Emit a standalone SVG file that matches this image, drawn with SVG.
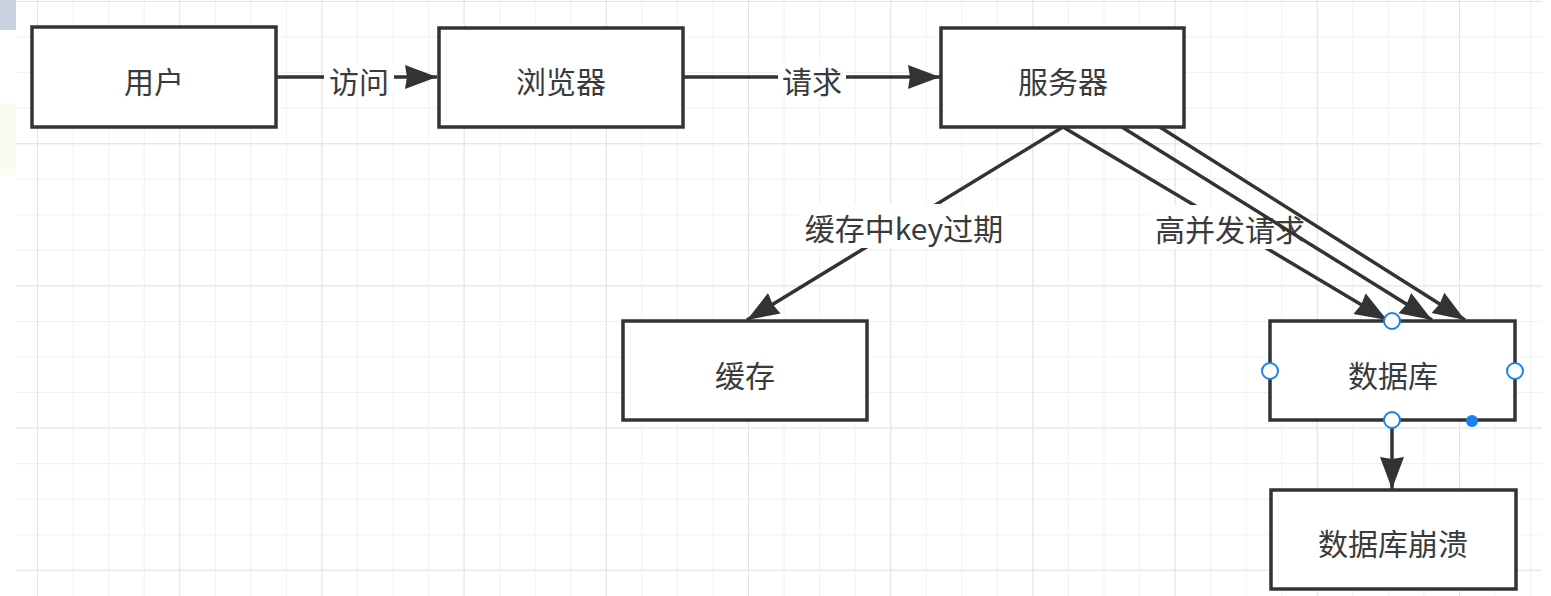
<svg xmlns="http://www.w3.org/2000/svg" width="1551" height="596" viewBox="0 0 1551 596">
<style>
.box{fill:#fff;stroke:#333;stroke-width:3.5}
.lbl{font-family:"Noto Sans CJK SC","Microsoft YaHei",sans-serif;font-size:30px;fill:#3a3a3a;text-anchor:middle;dominant-baseline:central}
.edge{fill:none;stroke:#333;stroke-width:3.5}
.lbg{fill:#fff}
.h{fill:#fff;stroke:#1a7ff0;stroke-width:2}
</style>
<defs>
<pattern id="minor" width="35.55" height="35.55" patternUnits="userSpaceOnUse" x="37" y="1">
<path d="M0,0 H35.55 M0,0 V35.55" fill="none" stroke="#f0f0f0" stroke-width="2"/>
</pattern>
<pattern id="major" width="142.2" height="142.2" patternUnits="userSpaceOnUse" x="37" y="1">
<path d="M0,0 H142.2 M0,0 V142.2" fill="none" stroke="#e4e4e4" stroke-width="2"/>
</pattern>
<marker id="arr" markerUnits="userSpaceOnUse" markerWidth="34" markerHeight="28" viewBox="0 -14 34 28" refX="32" refY="0" orient="auto">
<path d="M0,-12 L32,0 L0,12 L2,0 Z" fill="#333"/>
</marker>
</defs>
<rect width="1551" height="596" fill="#fff"/>
<rect x="16" y="0" width="1526" height="596" fill="url(#minor)"/>
<rect x="16" y="0" width="1526" height="596" fill="url(#major)"/>
<rect x="0" y="0" width="16" height="30" fill="#c9d3e0"/>
<rect x="0" y="103" width="16" height="72" fill="#fbfbf4"/>
<g id="connectors">
<g id="e-visit">
<path class="edge" d="M276,77 L437,77" marker-end="url(#arr)"/>
<rect class="lbg" x="324" y="62" width="70" height="30"/>
<text class="lbl" x="359" y="80">访问</text>
</g>
<g id="e-request">
<path class="edge" d="M683,77 L940,77" marker-end="url(#arr)"/>
<rect class="lbg" x="778" y="62" width="68" height="30"/>
<text class="lbl" x="812" y="80">请求</text>
</g>
<g id="e-cache">
<path class="edge" d="M1063,127 L747,320" marker-end="url(#arr)"/>
<rect class="lbg" x="800" y="204" width="208" height="44"/>
<text class="lbl" x="904" y="227">缓存中key过期</text>
</g>
<g id="e-db1">
<path class="edge" d="M1063,127 L1387,320" marker-end="url(#arr)"/>
<rect class="lbg" x="1150" y="205" width="158" height="44"/>
<text class="lbl" x="1230" y="228">高并发请求</text>
</g>
<path id="e-db2" class="edge" d="M1117,124 L1432,320" marker-end="url(#arr)"/>
<path id="e-db3" class="edge" d="M1155,124 L1465,320" marker-end="url(#arr)"/>
<path id="e-crash" class="edge" d="M1392,420 L1392,489" marker-end="url(#arr)"/>
</g>
<g id="n-user"><rect class="box" x="32" y="27" width="244" height="100"/><text class="lbl" x="154" y="80">用户</text></g>
<g id="n-browser"><rect class="box" x="439" y="28" width="244" height="99"/><text class="lbl" x="561" y="80">浏览器</text></g>
<g id="n-server"><rect class="box" x="941" y="28" width="243" height="99"/><text class="lbl" x="1063" y="80">服务器</text></g>
<g id="n-cache"><rect class="box" x="623" y="321" width="244" height="99"/><text class="lbl" x="745" y="374">缓存</text></g>
<g id="n-db"><rect class="box" x="1270" y="321" width="245" height="99"/><text class="lbl" x="1393" y="374">数据库</text></g>
<g id="n-crash"><rect class="box" x="1271" y="490" width="245" height="99"/><text class="lbl" x="1393" y="542">数据库崩溃</text></g>
<g id="handles">
<circle class="h" cx="1392" cy="321" r="8"/>
<circle class="h" cx="1270" cy="371" r="8"/>
<circle class="h" cx="1515" cy="371" r="8"/>
<circle class="h" cx="1392" cy="420" r="8"/>
<circle cx="1472" cy="421" r="6" fill="#1a7ff0"/>
</g>
</svg>
